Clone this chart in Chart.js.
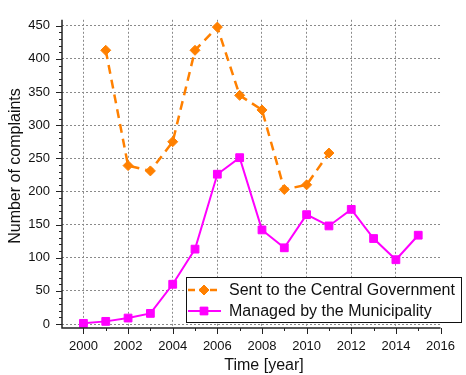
<!DOCTYPE html>
<html>
<head>
<meta charset="utf-8">
<script src="https://cdn.jsdelivr.net/npm/chart.js@4"></script>
<style>
  html, body { margin: 0; padding: 0; background: #fff; }
  #wrap { width: 466px; height: 375px; }
</style>
</head>
<body>
<div id="wrap"><canvas id="c" width="466" height="375"></canvas></div>
<script>
// Complaints per year
const yearsCentral = [2001, 2002, 2003, 2004, 2005, 2006, 2007, 2008, 2009, 2010, 2011];
const sentToCentral = [413, 239, 231, 275, 413, 448, 345, 323, 203, 210, 258];

const yearsMunicipal = [2000, 2001, 2002, 2003, 2004, 2005, 2006, 2007, 2008, 2009, 2010, 2011, 2012, 2013, 2014, 2015];
const managedByMunicipality = [1, 4, 9, 16, 60, 113, 226, 251, 142, 115, 165, 148, 173, 129, 97, 134];

const xTickValues = [2000, 2002, 2004, 2006, 2008, 2010, 2012, 2014, 2016];
const yTickValues = [0, 50, 100, 150, 200, 250, 300, 350, 400, 450];

const seriesLabels = ['Sent to the Central Government', 'Managed by the Municipality'];
const xTitle = 'Time [year]';
const yTitle = 'Number of complaints';

const FONT = '"Liberation Sans", Arial, sans-serif';
const ORANGE = '#FF8000';
const MAGENTA = '#FF00FF';
const AXIS = '#222';
const GRID = '#8a8a8a';

const toPoints = (xs, ys) => xs.map((x, i) => ({ x: x, y: ys[i] }));

// Axis lines, major/minor ticks, axis titles and the framed legend
const framePlugin = {
  id: 'frame',
  afterDraw(chart) {
    const ctx = chart.ctx;
    const xs = chart.scales.x, ys = chart.scales.y;
    const a = chart.chartArea;
    ctx.save();
    ctx.strokeStyle = AXIS;
    ctx.lineWidth = 1.5;
    ctx.beginPath();
    ctx.moveTo(a.left, a.top);
    ctx.lineTo(a.left, a.bottom);
    ctx.lineTo(a.right, a.bottom);
    ctx.stroke();

    ctx.lineWidth = 1;
    ctx.beginPath();
    // y ticks: major every 50, minor every 10
    for (let v = 0; v <= 450; v += 10) {
      const py = Math.round(ys.getPixelForValue(v)) + 0.5;
      const len = (v % 50 === 0) ? 6 : 3;
      ctx.moveTo(a.left - len, py);
      ctx.lineTo(a.left, py);
    }
    // x ticks: major on even years, minor on odd years
    for (let v = 2000; v <= 2016; v += 1) {
      const px = Math.round(xs.getPixelForValue(v)) + 0.5;
      const len = (v % 2 === 0) ? 6 : 3;
      ctx.moveTo(px, a.bottom);
      ctx.lineTo(px, a.bottom + len);
    }
    ctx.stroke();

    // axis titles
    ctx.fillStyle = '#111';
    ctx.font = '16px ' + FONT;
    ctx.textAlign = 'center';
    ctx.textBaseline = 'middle';
    ctx.fillText(xTitle, 264, 366);
    ctx.save();
    ctx.translate(16, 166);
    ctx.rotate(-Math.PI / 2);
    ctx.fillText(yTitle, 0, 0);
    ctx.restore();

    // legend
    const lx = 186, ly = 277, lw = 275, lh = 45;
    ctx.fillStyle = '#fff';
    ctx.fillRect(lx, ly, lw, lh);
    ctx.strokeStyle = '#111';
    ctx.lineWidth = 1;
    ctx.strokeRect(lx + 0.5, ly + 0.5, lw, lh);

    const rows = [
      { y: 290, color: ORANGE, dash: [7, 4], style: 'rectRot', r: 5, w: 2.5 },
      { y: 311, color: MAGENTA, dash: [], style: 'rect', r: 5.5, w: 2 }
    ];
    rows.forEach((row, i) => {
      ctx.strokeStyle = row.color;
      ctx.lineWidth = row.w;
      ctx.setLineDash(row.dash);
      ctx.beginPath();
      ctx.moveTo(188, row.y);
      ctx.lineTo(221, row.y);
      ctx.stroke();
      ctx.setLineDash([]);
      ctx.fillStyle = row.color;
      ctx.lineWidth = 1;
      Chart.helpers.drawPoint(ctx, { pointStyle: row.style, radius: row.r, borderWidth: 1 }, 204, row.y);
      ctx.fill();
      ctx.fillStyle = '#111';
      ctx.font = '16px ' + FONT;
      ctx.textAlign = 'left';
      ctx.textBaseline = 'middle';
      ctx.fillText(seriesLabels[i], 229, row.y + 1);
    });
    ctx.restore();
  }
};

new Chart(document.getElementById('c'), {
  type: 'line',
  data: {
    datasets: [
      {
        label: seriesLabels[0],
        data: toPoints(yearsCentral, sentToCentral),
        borderColor: ORANGE,
        backgroundColor: ORANGE,
        borderWidth: 2.5,
        borderDash: [9, 6],
        pointStyle: 'rectRot',
        pointRadius: 5,
        pointBorderWidth: 1,
        tension: 0
      },
      {
        label: seriesLabels[1],
        data: toPoints(yearsMunicipal, managedByMunicipality),
        borderColor: MAGENTA,
        backgroundColor: MAGENTA,
        borderWidth: 2,
        pointStyle: 'rect',
        pointRadius: 5.5,
        pointBorderWidth: 1,
        tension: 0
      }
    ]
  },
  options: {
    responsive: false,
    animation: false,
    layout: { padding: { top: 12, right: 14, left: 0, bottom: 0 } },
    plugins: { legend: { display: false }, tooltip: { enabled: false } },
    scales: {
      x: {
        type: 'linear',
        min: 1999.04,
        max: 2016,
        afterBuildTicks: s => { s.ticks = xTickValues.map(v => ({ value: v })); },
        afterFit: s => { s.height = 47; },
        border: { display: false, dash: [2, 2] },
        grid: {
          drawTicks: false,
          color: c => (c.tick && c.tick.value === 2016) ? 'rgba(0,0,0,0)' : GRID,
          lineWidth: 1
        },
        ticks: {
          padding: 11,
          color: '#111',
          font: { family: FONT, size: 13 },
          callback: v => String(v)
        }
      },
      y: {
        min: -6,
        max: 459,
        afterBuildTicks: s => { s.ticks = yTickValues.map(v => ({ value: v })); },
        afterFit: s => { s.width = 62; },
        border: { display: false, dash: [2, 2] },
        grid: {
          drawTicks: false,
          color: GRID,
          lineWidth: 1
        },
        ticks: {
          padding: 12,
          color: '#111',
          font: { family: FONT, size: 13 },
          callback: v => String(v)
        }
      }
    }
  },
  plugins: [framePlugin]
});
</script>
</body>
</html>
